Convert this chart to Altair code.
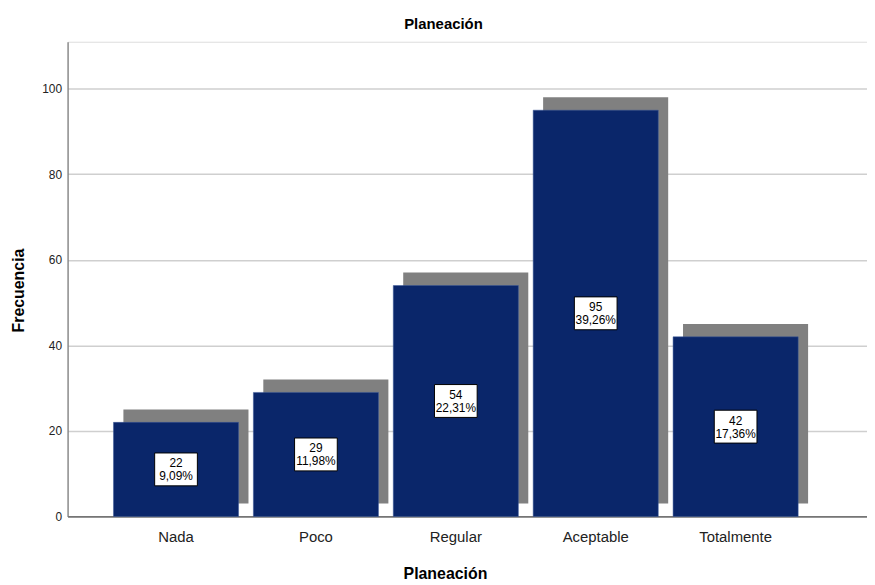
import altair as alt
import pandas as pd

categories = ["Nada", "Poco", "Regular", "Aceptable", "Totalmente"]
counts = [22, 29, 54, 95, 42]
percents = ["9,09%", "11,98%", "22,31%", "39,26%", "17,36%"]

df = pd.DataFrame({
    "cat": categories,
    "n": counts,
    "pct": percents,
})
df["label"] = [f"{n}\n{p}" for n, p in zip(counts, percents)]

FONT = "Liberation Sans"
NAVY = "#0a266a"

x = alt.X("cat:N", sort=categories,
          scale=alt.Scale(paddingInner=0.106, paddingOuter=0.41, align=0.4),
          axis=alt.Axis(title="Planeación", labelAngle=0, ticks=False,
                        labelFontSize=15, labelFont=FONT, labelColor="#222",
                        labelPadding=13, titleFontSize=16, titleFont=FONT,
                        titleFontWeight="bold", titleColor="#000",
                        titleX=380, titlePadding=21,
                        domainColor="#555", domainWidth=1.2, grid=False))
yscale = alt.Scale(domain=[0, 111], nice=False)

base = alt.Chart(df)

shadow = base.mark_bar(color="#808080", xOffset=10, yOffset=-13, y2Offset=-13).encode(
    x=x,
    y=alt.Y("n:Q", scale=yscale,
            axis=alt.Axis(title="Frecuencia", values=[0, 20, 40, 60, 80, 100],
                          ticks=False, labelFontSize=12, labelFont=FONT,
                          labelColor="#222", labelPadding=6,
                          titleFontSize=16, titleFont=FONT, titleFontWeight="bold",
                          titleColor="#000", titleX=-41, titleY=250,
                          gridColor="#cfcfcf", gridWidth=1.5,
                          domainColor="#777", domainWidth=1.2)),
    y2=alt.datum(0),
)

bars = base.mark_bar(color=NAVY, stroke="#3a5a9a", strokeWidth=0.5).encode(
    x=x,
    y=alt.Y("n:Q", scale=yscale),
    y2=alt.datum(0),
)

boxes = base.transform_calculate(half="datum.n / 2").mark_point(
    shape="M-1,-0.77L1,-0.77L1,0.77L-1,0.77Z",
    size=43 * 43, filled=True, fill="white", stroke="black",
    strokeWidth=1, opacity=1,
).encode(
    x=x,
    y=alt.Y("half:Q", scale=yscale),
)

texts = base.transform_calculate(half="datum.n / 2").mark_text(
    font=FONT, fontSize=12, lineBreak="\n", lineHeight=13, color="#000",
    baseline="middle", dy=-6,
).encode(
    x=x,
    y=alt.Y("half:Q", scale=yscale),
    text="label:N",
)

chart = alt.layer(shadow, bars, boxes, texts).properties(
    width=805, height=478,
    padding={"left": 60, "top": 32, "right": 0, "bottom": 64},
    autosize=alt.AutoSizeParams(type="none"),
    title=alt.TitleParams("Planeación", font=FONT, fontSize=15, fontWeight="bold",
                          color="#000", dx=-24, offset=10, anchor="middle"),
).configure_view(stroke=None).configure(background="white")

chart.save("out.html", embed_options={"renderer": "svg", "actions": False})
